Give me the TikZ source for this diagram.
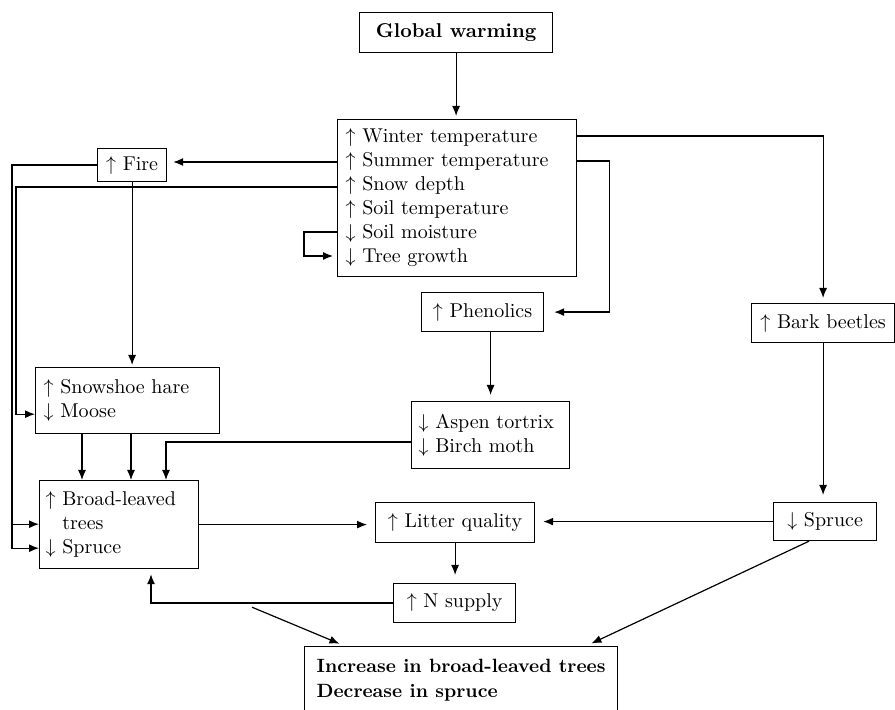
\documentclass[tikz,border=0pt]{standalone}
\usetikzlibrary{arrows.meta,calc}
\tikzset{
  box/.style={draw, line width=0.6pt, anchor=north west, inner xsep=3pt, inner ysep=0pt,
    align=left, font=\fontsize{10}{12}\selectfont},
}
\newcommand{\incr}{$\uparrow$\ }
\newcommand{\decr}{$\downarrow$\ }
\begin{document}
\begin{tikzpicture}[x=0.5pt, y=-0.5pt, line width=0.6pt, >={Latex[length=5pt,width=4pt]}]
  \clip (0,0) rectangle (895,710);
  % boxes
  \node[box, minimum width=96.5pt, minimum height=20pt, align=center, font=\fontsize{10}{12}\selectfont\bfseries] (gw) at (359,12) {Global warming};
  \node[box, text width=111.5pt, inner xsep=4pt, minimum height=78.5pt] (clim) at (337,119)
    {\incr Winter temperature\\\incr Summer temperature\\\incr Snow depth\\\incr Soil temperature\\\decr Soil moisture\\\decr Tree growth};
  \node[box, minimum width=34.5pt, minimum height=16.5pt] (fire) at (97,148) {\incr Fire};
  \node[box, text width=84pt, inner xsep=4pt, minimum height=33pt] (hare) at (35,367) {\incr Snowshoe hare\\\decr Moose};
  \node[box, text width=73.5pt, minimum height=44pt] (broad) at (39,480)
    {\incr Broad-leaved\\\phantom{\incr}trees\\\decr Spruce};
  \node[box, text width=72pt, inner xsep=3.5pt, minimum height=33.5pt] (aspen) at (411,401) {\decr Aspen tortrix\\\decr Birch moth};
  \node[box, minimum width=61pt, minimum height=19.5pt] (phen) at (421,292) {\incr Phenolics};
  \node[box, minimum width=71.5pt, minimum height=19.5pt] (bark) at (751,303) {\incr Bark beetles};
  \node[box, minimum width=79.5pt, minimum height=20pt] (litter) at (375,502) {\incr Litter quality};
  \node[box, minimum width=61pt, minimum height=19.5pt] (nsup) at (393,583) {\incr N supply};
  \node[box, minimum width=51.5pt, minimum height=19pt] (spruce) at (773,502) {\decr Spruce};
  \node[box, minimum width=156.5pt, minimum height=33.5pt, inner xsep=5.5pt, font=\fontsize{9.6}{12.5}\selectfont\bfseries] (final) at (304,646)
    {Increase in broad-leaved trees\\Decrease in spruce};
  % rows of the climate box
  \coordinate (cW) at ($(clim.north east)+(0,17)$);
  \coordinate (cS) at ($(clim.north east)+(0,42)$);
  \coordinate (cF) at ($(clim.north west)+(0,43)$);
  \coordinate (cD) at ($(clim.north west)+(0,68)$);
  \coordinate (cM) at ($(clim.north west)+(0,113)$);
  \coordinate (cT) at ($(clim.north west)+(0,137)$);
  \coordinate (hM) at ($(hare.south west)+(0,-20)$);
  \coordinate (bT) at ($(broad.south west)+(0,-45)$);
  \coordinate (bS) at ($(broad.south west)+(0,-21)$);
  \coordinate (bD) at ($(broad.south west)+(213,38)$);
  % connectors
  \draw[->, shorten >=1.5pt] (gw.south) -- (gw.south |- clim.north);
  \draw[->, shorten >=2.5pt] (cW) -| (bark.north);
  \draw[->, shorten >=5pt] (cS) -- ++(32,0) |- (phen.east);
  \draw[->, shorten >=3pt] (cF) -- (cF -| fire.east);
  \draw[->] (cD) -| ($(hM)+(-19,0)$) -- (hM);
  \draw[->, shorten >=2pt] (cM) -- ++(-33,0) |- (cT);
  \draw[->] (fire.west) -| ($(bS)+(-27,0)$) -- (bS);
  \draw[->] ($(bT)+(-27,0)$) -- (bT);
  \draw[->, shorten >=1pt] (fire.south) -- (fire.south |- hare.north);
  \foreach \dx in {47,96}
    \draw[->] ($(hare.south west)+(\dx,0)$) -- ($(broad.north west)+(\dx-4,0)$);
  \draw[->] ($(aspen.north west)+(0,41)$) -| ($(broad.north west)+(127,0)$);
  \draw[->, shorten >=3pt] (aspen.north |- phen.south) -- (aspen.north);
  \draw[->, shorten >=4pt] (broad.east) -- (broad.east -| litter.west);
  \draw[->, shorten >=4pt] (spruce.west) -- (spruce.west -| litter.east);
  \draw[->, shorten >=4pt] (litter.south) -- (litter.south |- nsup.north);
  \draw[->, shorten >=2.5pt] (nsup.west) -| ($(broad.south west)+(112,0)$);
  \draw[->, shorten >=3.5pt] (bark.south) -- (bark.south |- spruce.north);
  \draw[->, shorten >=3pt] (bD) -- ($(final.north west)+(41,0)$);
  \draw[->, shorten >=3pt] ($(spruce.south west)+(36,0)$) -- ($(final.north west)+(282,0)$);
\end{tikzpicture}
\end{document}
